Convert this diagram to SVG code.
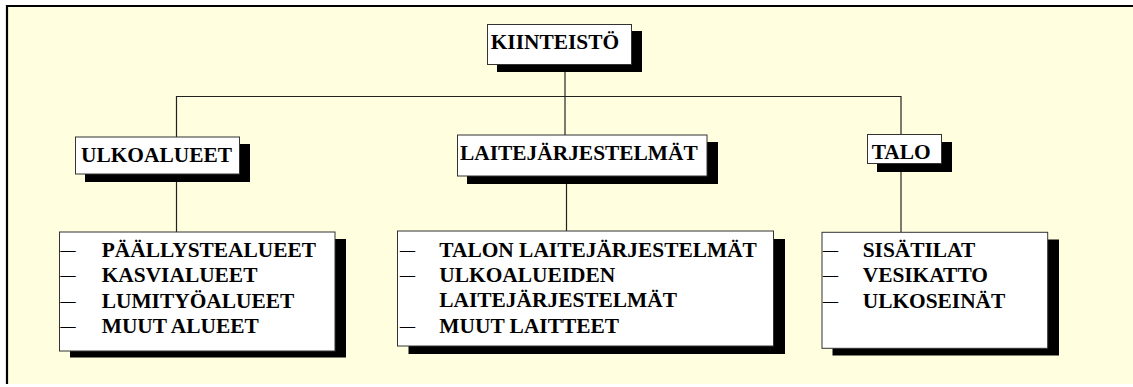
<svg xmlns="http://www.w3.org/2000/svg" width="1133" height="387" viewBox="0 0 1133 387">
<style>
.box{fill:#fff;stroke:#333;stroke-width:1}
.sh{fill:#000}
.t{font-family:"Liberation Serif","Times New Roman",serif;font-weight:bold;font-size:21.4px;fill:#000}
.d{font-family:"Liberation Serif","Times New Roman",serif;font-size:21px;fill:#000}
.c{stroke:#222;stroke-width:1.2;fill:none}
</style>
<rect x="0" y="0" width="1133" height="387" fill="#fff"/>
<rect x="7" y="6" width="1126" height="378" fill="#FFFEDF"/>
<path d="M7,384 V6 H1133" fill="none" stroke="#000" stroke-width="2.2"/>
<g id="connectors">
<path class="c" d="M565,64 V135"/>
<path class="c" d="M176.5,137 V96.5 H901 V135"/>
<path class="c" d="M176.5,174 V232"/>
<path class="c" d="M566.5,176 V231"/>
<path class="c" d="M901,163 V232"/>
</g>
<g id="kiinteisto">
<rect class="sh" x="497" y="31" width="145" height="41"/>
<rect class="box" x="487.5" y="24.5" width="144" height="40"/>
<text class="t" x="490.7" y="48.5">KIINTEISTÖ</text>
</g>
<g id="ulkoalueet">
<rect class="sh" x="85" y="144" width="165" height="38"/>
<rect class="box" x="75.5" y="137" width="164" height="37"/>
<text class="t" x="81" y="162">ULKOALUEET</text>
</g>
<g id="laitejarjestelmat">
<rect class="sh" x="467" y="142" width="251" height="42"/>
<rect class="box" x="457.5" y="135" width="249.5" height="41"/>
<text class="t" x="460" y="160">LAITEJÄRJESTELMÄT</text>
</g>
<g id="talo">
<rect class="sh" x="877" y="142" width="75" height="30"/>
<rect class="box" x="867.5" y="134.5" width="74" height="29"/>
<text class="t" x="871.7" y="159">TALO</text>
</g>
<g id="ulkoalueet-list">
<rect class="sh" x="70" y="239" width="276" height="118.5"/>
<rect class="box" x="59.5" y="232" width="275.5" height="119"/>
<text class="d" x="60.5" y="257" textLength="15" lengthAdjust="spacingAndGlyphs">–</text>
<text class="d" x="60.5" y="282.3" textLength="15" lengthAdjust="spacingAndGlyphs">–</text>
<text class="d" x="60.5" y="307.6" textLength="15" lengthAdjust="spacingAndGlyphs">–</text>
<text class="d" x="60.5" y="333" textLength="15" lengthAdjust="spacingAndGlyphs">–</text>
<text class="t" x="101.7" y="257">PÄÄLLYSTEALUEET</text>
<text class="t" x="101.7" y="282.3">KASVIALUEET</text>
<text class="t" x="101.7" y="307.6">LUMITYÖALUEET</text>
<text class="t" x="101.7" y="333">MUUT ALUEET</text>
</g>
<g id="laitejarjestelmat-list">
<rect class="sh" x="408.5" y="239" width="376.5" height="115"/>
<rect class="box" x="397.5" y="231" width="376" height="115"/>
<text class="d" x="400" y="256.5" textLength="15" lengthAdjust="spacingAndGlyphs">–</text>
<text class="d" x="400" y="281.8" textLength="15" lengthAdjust="spacingAndGlyphs">–</text>
<text class="d" x="400" y="332.5" textLength="15" lengthAdjust="spacingAndGlyphs">–</text>
<text class="t" x="439.3" y="256.5">TALON LAITEJÄRJESTELMÄT</text>
<text class="t" x="439.3" y="281.8">ULKOALUEIDEN</text>
<text class="t" x="439.3" y="307.2">LAITEJÄRJESTELMÄT</text>
<text class="t" x="439.3" y="332.5">MUUT LAITTEET</text>
</g>
<g id="talo-list">
<rect class="sh" x="832.5" y="239.5" width="226.5" height="116"/>
<rect class="box" x="822" y="232.3" width="225.7" height="116"/>
<text class="d" x="823" y="257" textLength="15" lengthAdjust="spacingAndGlyphs">–</text>
<text class="d" x="823" y="282.3" textLength="15" lengthAdjust="spacingAndGlyphs">–</text>
<text class="d" x="823" y="307.6" textLength="15" lengthAdjust="spacingAndGlyphs">–</text>
<text class="t" x="862.7" y="257">SISÄTILAT</text>
<text class="t" x="862.7" y="282.3">VESIKATTO</text>
<text class="t" x="862.7" y="307.6">ULKOSEINÄT</text>
</g>
</svg>
